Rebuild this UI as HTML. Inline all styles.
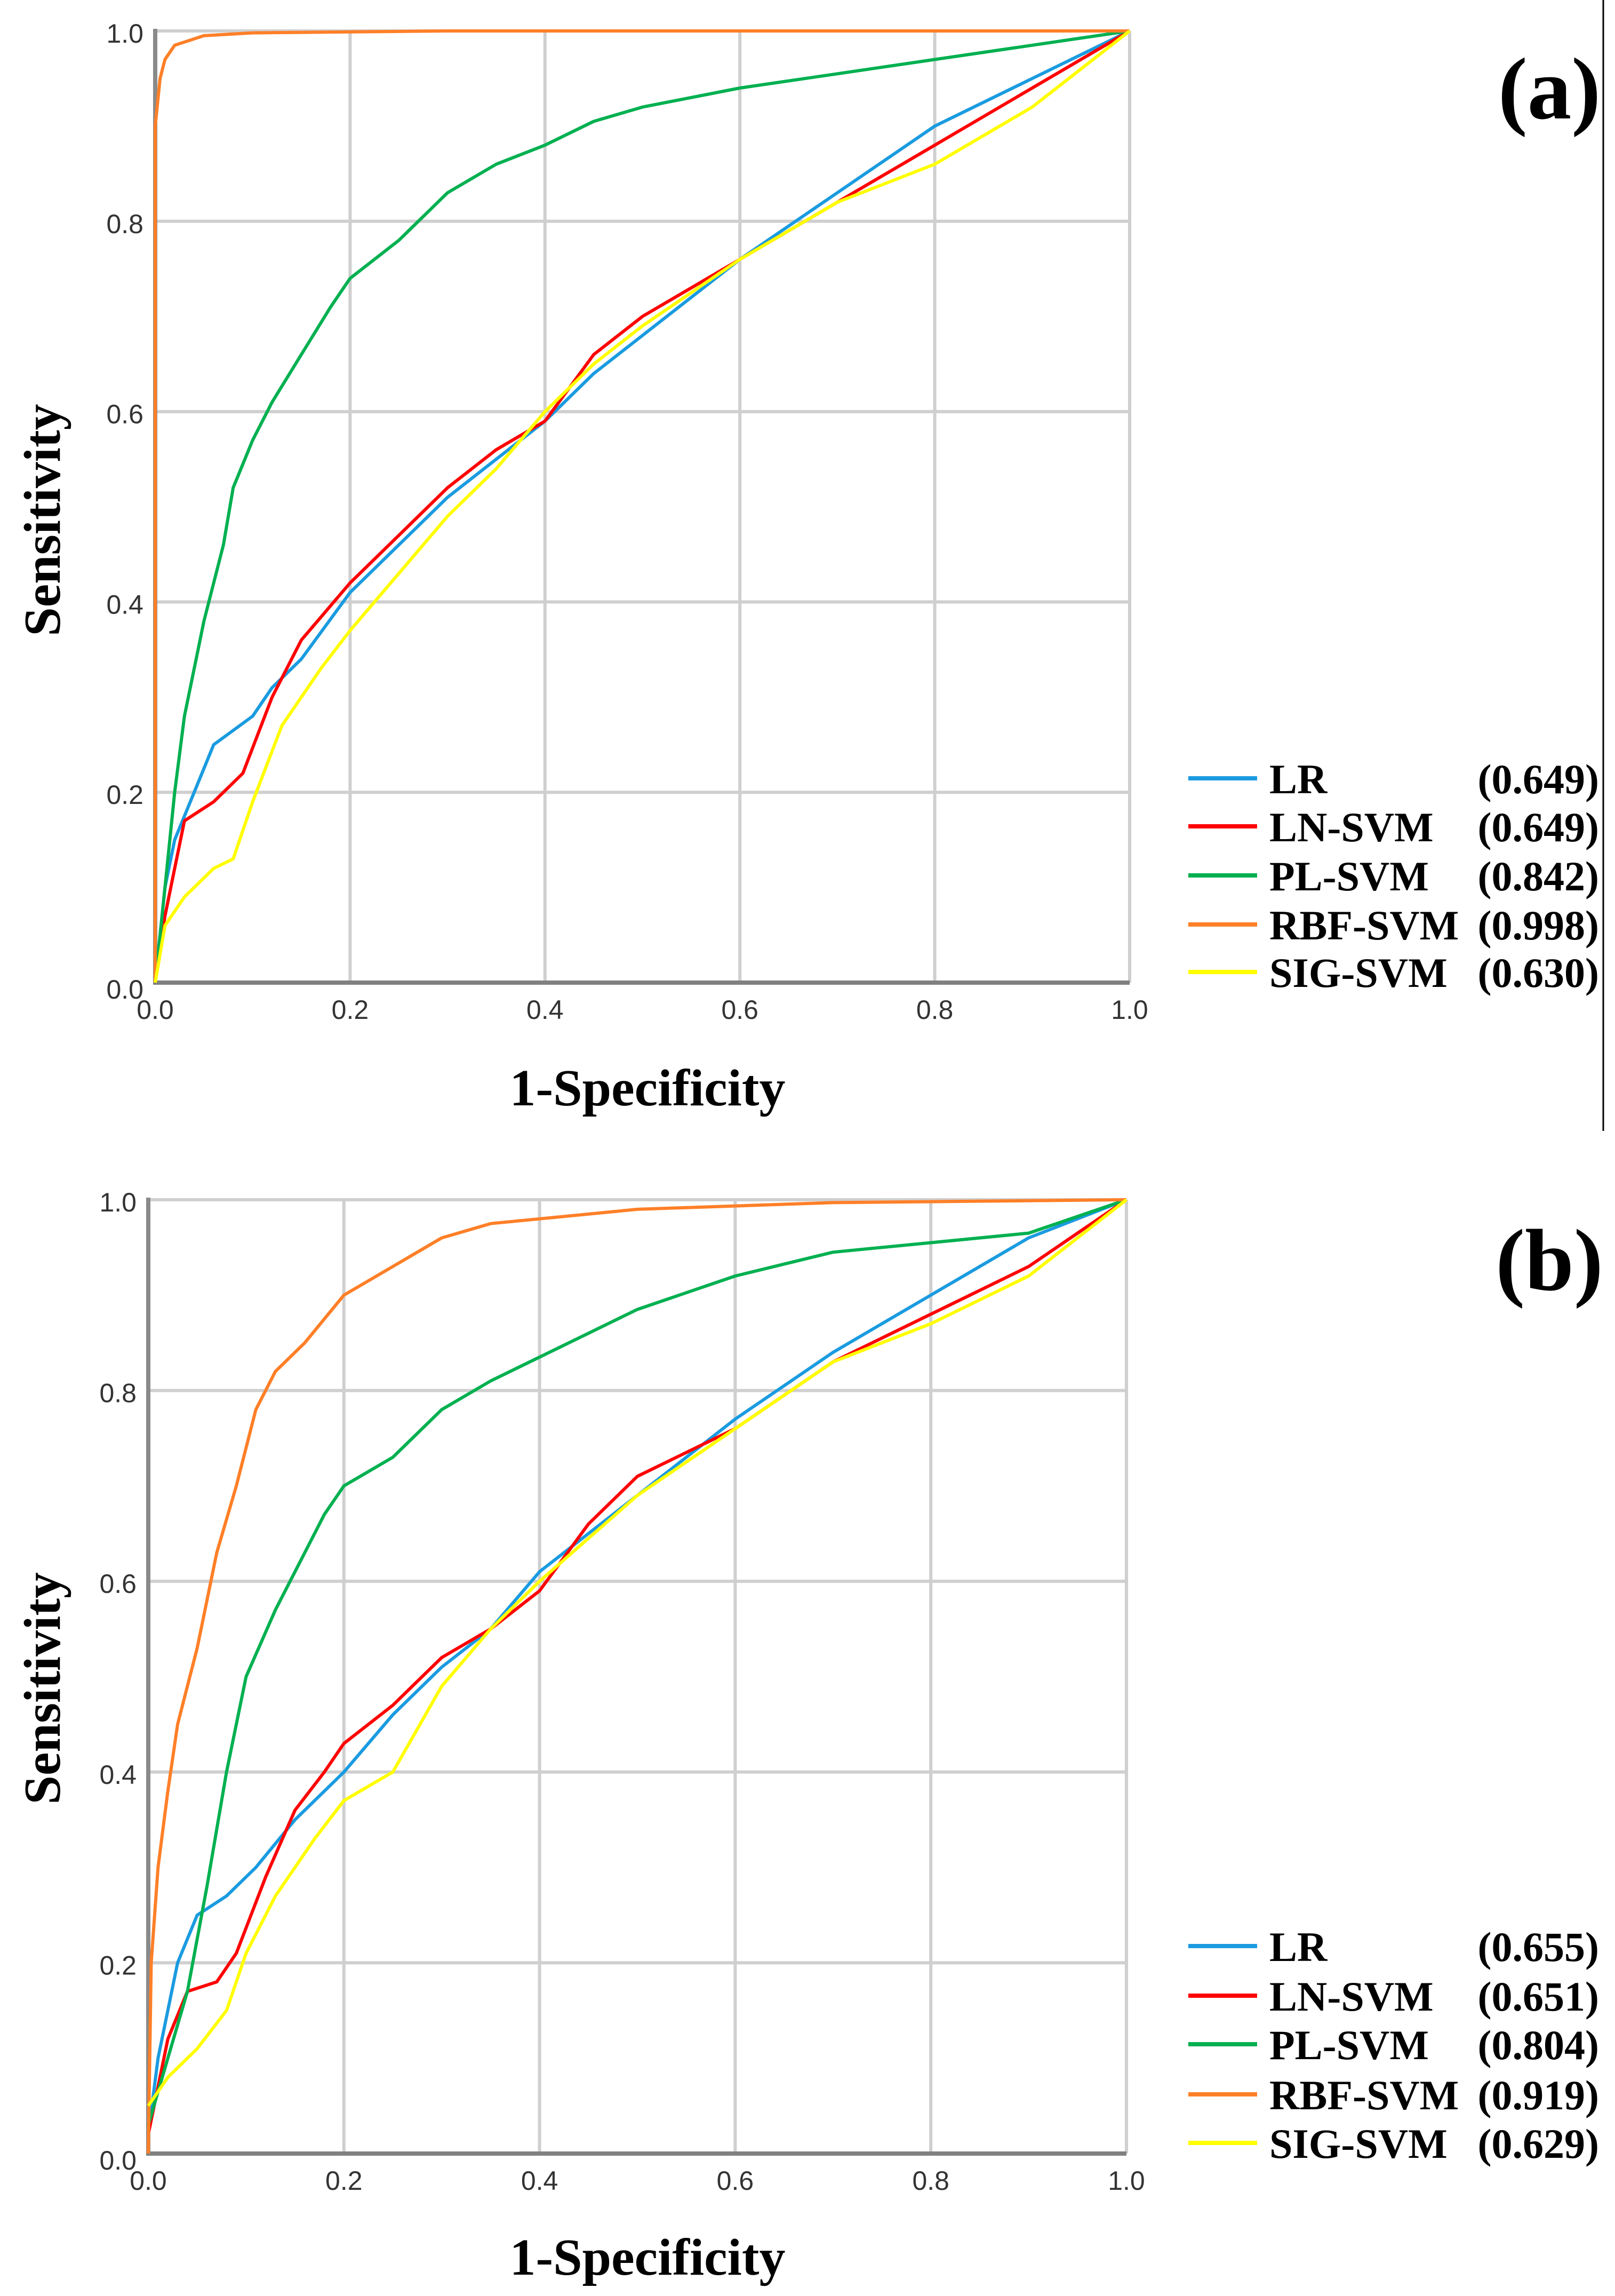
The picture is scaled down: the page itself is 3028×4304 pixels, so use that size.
<!DOCTYPE html>
<html><head><meta charset="utf-8">
<style>
html,body{margin:0;padding:0;background:#fff;}
svg{display:block;}
.tick{font-family:"Liberation Sans",sans-serif;font-size:50px;fill:#333;}
.ttl{font-family:"Liberation Serif",serif;font-weight:bold;fill:#000;}
</style></head>
<body>
<svg id="fig" width="3028" height="4304" viewBox="0 0 3028 4304" xmlns="http://www.w3.org/2000/svg">
<line x1="3006" y1="0" x2="3006" y2="2120" stroke="#000" stroke-width="3"/>
</svg>
<script>
// ---- data ----
const tickValues = [0, 0.2, 0.4, 0.6, 0.8, 1.0];
const tickLabels = ["0.0", "0.2", "0.4", "0.6", "0.8", "1.0"];
const seriesNames = ["LR", "LN-SVM", "PL-SVM", "RBF-SVM", "SIG-SVM"];
const aucA = ["(0.649)", "(0.649)", "(0.842)", "(0.998)", "(0.630)"];
const aucB = ["(0.655)", "(0.651)", "(0.804)", "(0.919)", "(0.629)"];

// Panel (a)
const aLRx = [0,0.01,0.02,0.04,0.06,0.1,0.12,0.15,0.2,0.25,0.3,0.35,0.4,0.45,0.5,0.55,0.6,0.7,0.8,0.9,1];
const aLRy = [0,0.1,0.15,0.2,0.25,0.28,0.31,0.34,0.41,0.46,0.51,0.55,0.59,0.64,0.68,0.72,0.76,0.83,0.9,0.95,1];
const aLNx = [0,0.01,0.02,0.03,0.06,0.09,0.12,0.15,0.2,0.25,0.3,0.35,0.4,0.45,0.5,0.6,0.7,0.8,0.9,1];
const aLNy = [0,0.07,0.12,0.17,0.19,0.22,0.3,0.36,0.42,0.47,0.52,0.56,0.59,0.66,0.7,0.76,0.82,0.88,0.94,1];
const aPLx = [0,0.01,0.02,0.03,0.05,0.07,0.08,0.1,0.12,0.15,0.18,0.2,0.25,0.3,0.35,0.4,0.45,0.5,0.6,0.7,0.8,0.9,1];
const aPLy = [0,0.1,0.2,0.28,0.38,0.46,0.52,0.57,0.61,0.66,0.71,0.74,0.78,0.83,0.86,0.88,0.905,0.92,0.94,0.955,0.97,0.985,1];
const aRBFx = [0,0,0.005,0.01,0.02,0.05,0.1,0.3,1];
const aRBFy = [0,0.9,0.95,0.97,0.985,0.995,0.998,1,1];
const aSIGx = [0,0.01,0.03,0.06,0.08,0.1,0.13,0.17,0.2,0.25,0.3,0.35,0.4,0.45,0.5,0.6,0.7,0.8,0.9,1];
const aSIGy = [0,0.06,0.09,0.12,0.13,0.19,0.27,0.33,0.37,0.43,0.49,0.54,0.6,0.65,0.69,0.76,0.82,0.86,0.92,1];

// Panel (b)
const bLRx = [0,0.01,0.03,0.05,0.08,0.11,0.15,0.2,0.25,0.3,0.35,0.4,0.45,0.5,0.6,0.7,0.8,0.9,1];
const bLRy = [0.02,0.1,0.2,0.25,0.27,0.3,0.35,0.4,0.46,0.51,0.55,0.61,0.65,0.69,0.77,0.84,0.9,0.96,1];
const bLNx = [0,0.02,0.04,0.07,0.09,0.12,0.15,0.18,0.2,0.25,0.3,0.35,0.4,0.45,0.5,0.6,0.7,0.8,0.9,1];
const bLNy = [0.02,0.12,0.17,0.18,0.21,0.29,0.36,0.4,0.43,0.47,0.52,0.55,0.59,0.66,0.71,0.76,0.83,0.88,0.93,1];
const bPLx = [0,0.02,0.04,0.06,0.08,0.1,0.13,0.15,0.18,0.2,0.25,0.3,0.35,0.4,0.45,0.5,0.6,0.7,0.8,0.9,1];
const bPLy = [0.03,0.1,0.17,0.28,0.4,0.5,0.57,0.61,0.67,0.7,0.73,0.78,0.81,0.835,0.86,0.885,0.92,0.945,0.955,0.965,1];
const bRBFx = [0,0.003,0.01,0.02,0.03,0.05,0.07,0.09,0.11,0.13,0.16,0.2,0.25,0.3,0.35,0.4,0.5,0.7,1];
const bRBFy = [0,0.2,0.3,0.38,0.45,0.53,0.63,0.7,0.78,0.82,0.85,0.9,0.93,0.96,0.975,0.98,0.99,0.997,1];
const bSIGx = [0,0.02,0.05,0.08,0.1,0.13,0.17,0.2,0.25,0.3,0.35,0.4,0.5,0.6,0.7,0.8,0.9,1];
const bSIGy = [0.05,0.08,0.11,0.15,0.21,0.27,0.33,0.37,0.4,0.49,0.55,0.6,0.69,0.76,0.83,0.87,0.92,1];

const colors = ["#1a9be0", "#ff0000", "#00b050", "#ff7f27", "#ffff00"];

const NS = "http://www.w3.org/2000/svg";
const svg = document.getElementById("fig");
function mk(tag, attrs, parent) {
  const e = document.createElementNS(NS, tag);
  for (const k in attrs) e.setAttribute(k, attrs[k]);
  (parent || svg).appendChild(e);
  return e;
}

function drawPanel(p) {
  const g = mk("g", {});
  
  
  const sx = v => p.x0 + v * (p.x1 - p.x0);
  const sy = v => p.y0 - v * (p.y0 - p.y1);
  tickValues.forEach((t, i) => {
    if (i > 0) {
      const vl = mk("line", {x1: sx(t), x2: sx(t), y1: p.y1, y2: p.y0, stroke: "#cfcfcf", "stroke-width": 6}, g);
      
      
      const hl = mk("line", {x1: p.x0, x2: p.x1, y1: sy(t), y2: sy(t), stroke: "#cfcfcf", "stroke-width": 6}, g);
      
      
    }
    const xt = mk("text", {x: sx(t), y: p.y0 + 68, "text-anchor": "middle", class: "tick"}, g);
    xt.textContent = tickLabels[i];
    
    
    const yt = mk("text", {x: p.x0 - 22, y: sy(t) + 22 + (i === 0 ? 8 : 0), "text-anchor": "end", class: "tick"}, g);
    yt.textContent = tickLabels[i];
    
    
  });
  const ax = mk("line", {x1: p.x0 - 4, x2: p.x1, y1: p.y0, y2: p.y0, stroke: "#808080", "stroke-width": 8}, g);
  
  
  const ay = mk("line", {x1: p.x0, x2: p.x0, y1: p.y1 - 4, y2: p.y0, stroke: "#8a8a8a", "stroke-width": 8}, g);
  
  
  p.series.forEach((s, i) => {
    const pts = s[0].map((x, j) => sx(x).toFixed(1) + "," + sy(s[1][j]).toFixed(1)).join(" ");
    const pl = mk("polyline", {points: pts, fill: "none", stroke: colors[i], "stroke-width": 6, "stroke-linejoin": "round"}, g);
    
    
  });
  const xtt = mk("text", {x: 1214, y: p.xTitleY, "text-anchor": "middle", class: "ttl", "font-size": 98}, g);
  xtt.textContent = "1-Specificity";
  
  
  const ytt = mk("text", {x: 0, y: 0, "text-anchor": "middle", class: "ttl", "font-size": 98, transform: "translate(112," + p.yTitleC + ") rotate(-90)"}, g);
  ytt.textContent = "Sensitivity";
  
  
  const lb = mk("text", {x: 2905, y: p.labelY, "text-anchor": "middle", class: "ttl", "font-size": 165}, g);
  lb.textContent = "(" + p.id + ")";
  
  
  const lg = mk("g", {}, g);
  
  
  p.legendY.forEach((ly, i) => {
    const ll = mk("line", {x1: 2228, x2: 2357, y1: ly, y2: ly, stroke: colors[i], "stroke-width": 8}, lg);
    
    
    const lt = mk("text", {x: 2380, y: ly + 28, class: "ttl", "font-size": 78}, lg);
    lt.textContent = seriesNames[i];
    
    
    const lv = mk("text", {x: 2998, y: ly + 28, "text-anchor": "end", class: "ttl", "font-size": 78}, lg);
    lv.textContent = p.auc[i];
    
    
  });
}

drawPanel({id: "a", x0: 291, x1: 2118, y0: 1842, y1: 58, xTitleY: 2072, yTitleC: 975, labelY: 222,
  legendY: [1459, 1549, 1641, 1733, 1822], auc: aucA,
  series: [[aLRx, aLRy], [aLNx, aLNy], [aPLx, aPLy], [aRBFx, aRBFy], [aSIGx, aSIGy]]});
drawPanel({id: "b", x0: 278, x1: 2112, y0: 4037, y1: 2249, xTitleY: 4264, yTitleC: 3165, labelY: 2418,
  legendY: [3648, 3741, 3832, 3926, 4017], auc: aucB,
  series: [[bLRx, bLRy], [bLNx, bLNy], [bPLx, bPLy], [bRBFx, bRBFy], [bSIGx, bSIGy]]});
</script>
</body></html>
